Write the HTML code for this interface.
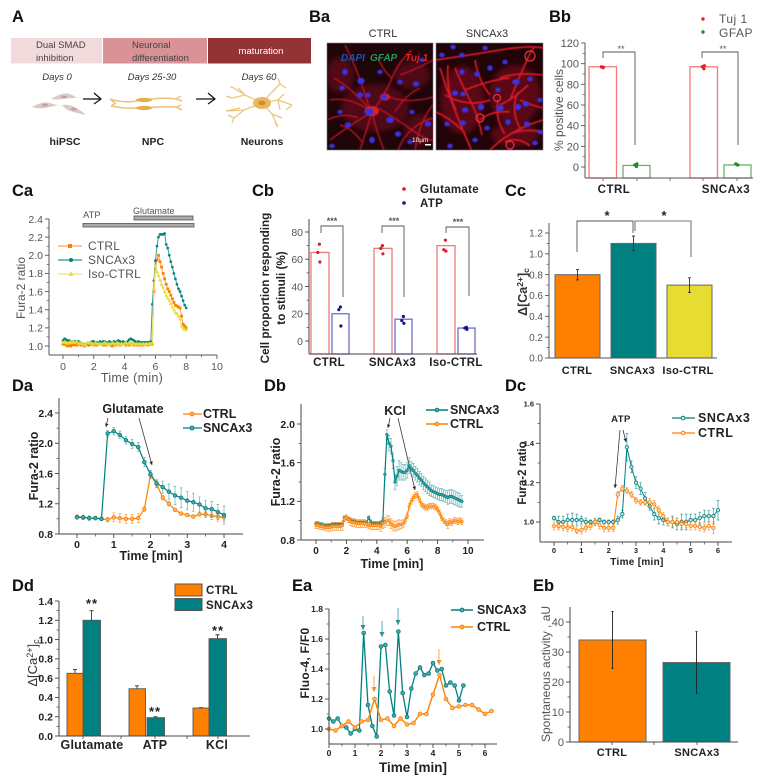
<!DOCTYPE html>
<html lang="en">
<head>
<meta charset="utf-8">
<title>SNCAx3 neuron calcium figure</title>
<style>
html,body{margin:0;padding:0;background:#fff;}
#figure{display:block;width:778px;height:781px;font-family:"Liberation Sans",sans-serif;filter:blur(0.3px);}
.panel{font-size:16.5px;font-weight:bold;fill:#111;}
.bd{font-weight:bold;fill:#222;}
.gr{fill:#555;}
</style>
</head>
<body>
<svg id="figure" xmlns="http://www.w3.org/2000/svg" width="778" height="781" viewBox="0 0 778 781">
<defs>
<marker id="ah" markerWidth="6" markerHeight="6" refX="5" refY="2.5" orient="auto"><path d="M0 0L5 2.5L0 5z" fill="#222"/></marker>
<marker id="aht" markerWidth="6" markerHeight="6" refX="5" refY="2.5" orient="auto"><path d="M0 0L5 2.5L0 5z" fill="#2f8f8f"/></marker>
<marker id="aho" markerWidth="6" markerHeight="6" refX="5" refY="2.5" orient="auto"><path d="M0 0L5 2.5L0 5z" fill="#f58a2a"/></marker>
<filter id="soft" x="-5%" y="-5%" width="110%" height="110%"><feGaussianBlur stdDeviation="0.6"/></filter>
<filter id="haze" x="-5%" y="-5%" width="110%" height="110%"><feGaussianBlur stdDeviation="3"/></filter>
<clipPath id="clipCtrl"><rect x="327" y="43" width="106" height="107"/></clipPath>
<clipPath id="clipSnca"><rect x="436" y="43" width="107" height="107"/></clipPath>
</defs>

<!-- panel letters -->
<g>
<text class="panel" x="12" y="22">A</text>
<text class="panel" x="309" y="22">Ba</text>
<text class="panel" x="549" y="22">Bb</text>
<text class="panel" x="12" y="196">Ca</text>
<text class="panel" x="252" y="196">Cb</text>
<text class="panel" x="505" y="196">Cc</text>
<text class="panel" x="12" y="391">Da</text>
<text class="panel" x="264" y="391">Db</text>
<text class="panel" x="505" y="391">Dc</text>
<text class="panel" x="12" y="591">Dd</text>
<text class="panel" x="292" y="591">Ea</text>
<text class="panel" x="533" y="591">Eb</text>
</g>

<!-- panel A -->
<g font-size="9.5">
<rect x="11" y="38" width="91" height="25.5" fill="#f2d9dc"/>
<rect x="103" y="38" width="104" height="25.5" fill="#d99295"/>
<rect x="208" y="38" width="103" height="25.5" fill="#943336"/>
<text x="36" y="48" fill="#444">Dual SMAD</text>
<text x="36" y="61" fill="#444">inhibition</text>
<text x="132" y="48" fill="#444">Neuronal</text>
<text x="132" y="61" fill="#444">differentiation</text>
<text x="261" y="54" fill="#fff" text-anchor="middle">maturation</text>
<g font-style="italic" fill="#333" text-anchor="middle">
<text x="57" y="80">Days 0</text>
<text x="152" y="80">Days 25-30</text>
<text x="259" y="80">Days 60</text>
</g>
<g font-weight="bold" font-size="10.5" fill="#222" text-anchor="middle">
<text x="65" y="145">hiPSC</text>
<text x="153" y="145">NPC</text>
<text x="262" y="145">Neurons</text>
</g>
<g fill="#dcc9c5">
<path d="M51 99Q62 92 70 94Q76 97 77 98Q68 98 62 99Q56 100 51 99z"/>
<path d="M32 107Q42 101 50 103Q55 105 58 105Q50 107 44 108Q38 109 32 107z"/>
<path d="M62 105Q70 104 76 108Q82 111 86 115Q76 113 70 111Q65 109 62 105z"/>
<g fill="#bfa39f"><ellipse cx="64" cy="97" rx="3" ry="1.4"/><ellipse cx="45" cy="105" rx="3" ry="1.4"/><ellipse cx="74" cy="109" rx="3" ry="1.4"/></g>
</g>
<g fill="none" stroke="#ecc67e" stroke-width="1.6">
<path d="M110 99Q125 104 142 100Q165 97 176 99M176 99L181 96M176 99L182 101M110 99L116 104"/>
<path d="M111 106Q125 109 142 108Q165 106 176 107M176 107L181 105M176 107L182 110M111 106L116 103"/>
<ellipse cx="144" cy="100" rx="8" ry="2.2" fill="#e4b04f" stroke="none"/>
<ellipse cx="144" cy="108" rx="8" ry="2.2" fill="#e4b04f" stroke="none"/>
</g>
<g fill="none" stroke="#ecc67e" stroke-width="1.3">
<path d="M262 103L245 95L232 98M245 95L238 88M232 98L226 96M245 95L232 87M232 87L230 87"/>
<path d="M262 103L244 110L226 111M244 110L234 118M226 111L240 108M234 118L228 115M234 118L232 123"/>
<path d="M262 103L272 114L278 127M272 114L282 118M278 127L275 122"/>
<path d="M262 103L278 100L292 105M278 100L284 94M292 105L286 110M278 100L280 110"/>
<path d="M262 103L272 92L280 84M280 84L286 88M280 84L278 78"/>
<ellipse cx="262" cy="103" rx="9" ry="6" fill="#e9b75f" stroke="none"/>
<ellipse cx="262" cy="103" rx="3.5" ry="2.4" fill="#d18f2b" stroke="none"/>
</g>
<g stroke="#111" stroke-width="1.2" fill="none">
<path d="M83 99H101M94 93L101 99L94 104"/>
<path d="M196 99H215M208 93L215 99L208 104"/>
</g>
</g>

<!-- panel Ba -->
<g>
<text x="383" y="37" text-anchor="middle" font-size="11" fill="#333">CTRL</text>
<text x="487" y="37" text-anchor="middle" font-size="11" fill="#333">SNCAx3</text>
<g>
<rect x="327" y="43" width="106" height="107" fill="#1e0508" stroke="#778" stroke-width="0.6"/>
<g clip-path="url(#clipCtrl)">
<g fill="#7a1020" opacity="0.55" filter="url(#haze)"><ellipse cx="375" cy="108" rx="34" ry="24"/><ellipse cx="340" cy="75" rx="14" ry="18"/><ellipse cx="420" cy="130" rx="16" ry="16"/><ellipse cx="412" cy="75" rx="18" ry="14"/></g>
<g fill="none" stroke="#c9182a" stroke-width="1.5" opacity="0.85" filter="url(#soft)">
<path d="M372 112Q385 95 392 78T412 50"/><path d="M372 112Q350 125 330 140"/><path d="M372 112Q376 130 384 150"/>
<path d="M385 95Q398 102 418 100T433 92"/><path d="M378 108Q395 118 412 130T433 140"/><path d="M392 78Q384 72 378 58"/>
<path d="M330 100Q350 96 372 112"/><path d="M372 112Q352 88 334 78"/><path d="M398 150Q408 125 433 118"/>
<path d="M345 45Q358 70 370 110"/><path d="M415 150Q420 120 433 105"/><path d="M360 150Q365 135 372 112"/>
<path d="M400 75Q415 70 433 60"/><path d="M340 125Q352 128 362 142"/><path d="M327 120Q345 112 358 118"/><path d="M395 112Q405 95 420 88"/>
</g>
<g fill="#d8202e" filter="url(#soft)"><ellipse cx="372" cy="111" rx="7" ry="5"/><ellipse cx="385" cy="97" rx="5" ry="3.5"/></g>
<g fill="#3a30dc" filter="url(#soft)">
<ellipse cx="369" cy="112" rx="4.5" ry="3.5"/><ellipse cx="361" cy="81" rx="3.8" ry="3.2"/><ellipse cx="360" cy="95" rx="3.2" ry="2.8"/><ellipse cx="368" cy="95" rx="2.8" ry="2.4"/><ellipse cx="384" cy="97" rx="3.2" ry="2.8"/>
<ellipse cx="390" cy="120" rx="3.8" ry="3"/><ellipse cx="342" cy="88" rx="2.8" ry="2.4"/><ellipse cx="345" cy="72" rx="2.8" ry="3.2"/><ellipse cx="400" cy="82" rx="2.8" ry="2.2"/><ellipse cx="416" cy="84" rx="3.2" ry="2.7"/>
<ellipse cx="428" cy="124" rx="3.2" ry="2.7"/><ellipse cx="412" cy="112" rx="2.8" ry="2.2"/><ellipse cx="398" cy="134" rx="3.2" ry="2.7"/><ellipse cx="372" cy="140" rx="2.8" ry="3.2"/><ellipse cx="348" cy="125" rx="3.2" ry="2.7"/>
<ellipse cx="340" cy="112" rx="2.8" ry="2.2"/><ellipse cx="380" cy="72" rx="2.8" ry="2.2"/><ellipse cx="332" cy="146" rx="2.8" ry="2.2"/><ellipse cx="422" cy="60" rx="2.8" ry="2.2"/><ellipse cx="410" cy="142" rx="2.8" ry="2.2"/>
</g>
</g>
<text x="341" y="61" font-size="10" font-weight="bold" font-style="italic" fill="#2250b8">DAPI</text>
<text x="370" y="61" font-size="10" font-weight="bold" font-style="italic" fill="#1f9a58">GFAP</text>
<text x="405" y="61" font-size="10" font-weight="bold" font-style="italic" fill="#e8201f">Tuj 1</text>
<text x="412" y="142" font-size="6.5" fill="#fff">10µm</text>
<rect x="425" y="144" width="6" height="1.5" fill="#fff"/>
</g>
<g>
<rect x="436" y="43" width="107" height="107" fill="#200407" stroke="#778" stroke-width="0.6"/>
<g clip-path="url(#clipSnca)">
<g fill="#8a1020" opacity="0.55" filter="url(#haze)"><ellipse cx="462" cy="100" rx="22" ry="34"/><ellipse cx="515" cy="95" rx="26" ry="30"/><ellipse cx="515" cy="135" rx="24" ry="12"/></g>
<g fill="none" stroke="#e01a2c" stroke-width="1.8" opacity="0.92" filter="url(#soft)">
<path d="M436 60Q470 55 500 50T543 48"/><path d="M440 68Q450 100 465 135T470 150"/><path d="M448 65Q446 90 456 110"/>
<path d="M500 78Q515 72 543 75"/><path d="M510 100Q520 75 527 60T535 48"/><path d="M465 90Q490 80 510 78"/>
<path d="M436 112Q450 118 462 130"/><path d="M498 100Q495 120 505 134"/><path d="M490 150Q510 130 543 120"/>
<path d="M520 100Q530 105 543 108"/><path d="M475 60Q478 80 490 95"/><path d="M500 105Q515 98 528 85"/>
<path d="M510 134Q525 128 543 132"/><path d="M445 95Q468 108 490 100"/><path d="M505 142Q518 136 530 146"/>
<path d="M480 120Q492 110 510 112"/><path d="M455 68Q462 85 470 100T482 135"/><path d="M518 92Q510 110 520 128"/>
</g>
<g fill="none" stroke="#e8333c" stroke-width="1.2"><circle cx="530" cy="56" r="5"/><circle cx="510" cy="145" r="4"/><circle cx="480" cy="118" r="4"/><circle cx="497" cy="98" r="3.5"/></g>
<g fill="#3a30e0" filter="url(#soft)">
<ellipse cx="442" cy="55" rx="2.8" ry="2.3"/><ellipse cx="453" cy="47" rx="2.8" ry="2.3"/><ellipse cx="462" cy="55" rx="2.8" ry="2.3"/><ellipse cx="485" cy="48" rx="2.8" ry="2.3"/><ellipse cx="490" cy="68" rx="2.8" ry="2.8"/>
<ellipse cx="505" cy="62" rx="2.8" ry="2.3"/><ellipse cx="516" cy="82" rx="3.8" ry="2.9"/><ellipse cx="530" cy="79" rx="2.8" ry="2.4"/><ellipse cx="462" cy="72" rx="2.8" ry="2.8"/><ellipse cx="477" cy="74" rx="2.8" ry="2.8"/>
<ellipse cx="455" cy="93" rx="3.2" ry="2.8"/><ellipse cx="463" cy="94" rx="2.8" ry="2.3"/><ellipse cx="465" cy="110" rx="3.2" ry="2.8"/><ellipse cx="481" cy="107" rx="3.2" ry="3.2"/><ellipse cx="500" cy="108" rx="3.8" ry="3.2"/>
<ellipse cx="518" cy="107" rx="3.2" ry="3.2"/><ellipse cx="526" cy="104" rx="3.2" ry="2.8"/><ellipse cx="447" cy="124" rx="2.8" ry="2.3"/><ellipse cx="463" cy="123" rx="2.8" ry="2.8"/><ellipse cx="487" cy="128" rx="2.8" ry="2.3"/>
<ellipse cx="508" cy="122" rx="2.8" ry="2.8"/><ellipse cx="527" cy="124" rx="3.2" ry="2.8"/><ellipse cx="540" cy="132" rx="2.8" ry="2.3"/><ellipse cx="475" cy="140" rx="2.8" ry="2.3"/><ellipse cx="535" cy="143" rx="2.8" ry="2.3"/>
<ellipse cx="540" cy="100" rx="2.8" ry="2.3"/><ellipse cx="498" cy="90" rx="2.8" ry="2.3"/><ellipse cx="450" cy="146" rx="2.8" ry="2.3"/>
</g>
</g>
</g>
</g>

<!-- static annotations -->
<g fill="none" stroke="#555" stroke-width="0.9">
<path d="M603 58V52H635V145"/>
<path d="M702 58V52H738V145"/>
</g>
<g>
<text x="621" y="52" text-anchor="middle" font-size="9" class="gr">**</text>
<text x="723" y="52" text-anchor="middle" font-size="9" class="gr">**</text>
<text transform="translate(563,110) rotate(-90)" text-anchor="middle" font-size="12" class="gr">% positive cells</text>
<circle cx="703" cy="19" r="1.7" fill="#e8202a"/>
<text x="719" y="23" font-size="12" class="gr" letter-spacing="0.5">Tuj 1</text>
<circle cx="703" cy="32" r="1.7" fill="#1a8a2a"/>
<text x="719" y="37" font-size="12" class="gr" letter-spacing="0.5">GFAP</text>
</g>

<g>
<rect x="134" y="216" width="59" height="4" fill="#aaa" stroke="#555" stroke-width="0.8"/>
<rect x="83" y="223.5" width="111" height="3.5" fill="#aaa" stroke="#555" stroke-width="0.8"/>
<text x="83" y="218" font-size="9.5" class="gr">ATP</text>
<text x="133" y="214" font-size="9" class="gr">Glutamate</text>
<text transform="translate(25,288) rotate(-90)" text-anchor="middle" font-size="12" class="gr">Fura-2 ratio</text>
<text x="132" y="382" text-anchor="middle" font-size="12.5" class="gr" letter-spacing="0.3">Time (min)</text>
<g font-size="12" class="gr" letter-spacing="0.2">
<text x="88" y="250">CTRL</text>
<text x="88" y="264">SNCAx3</text>
<text x="88" y="278">Iso-CTRL</text>
</g>
<path d="M58 246H82" stroke="#fbb27a" stroke-width="1.5"/>
<rect x="68" y="244" width="4" height="4" fill="#ff8000"/>
<path d="M58 260H82" stroke="#4aa5a5" stroke-width="1.5"/>
<circle cx="71" cy="260" r="2" fill="#008080"/>
<path d="M58 274H82" stroke="#f0e88a" stroke-width="1.5"/>
<path d="M71 271.5L73.5 276H68.5z" fill="#e6dc32"/>
</g>

<g>
<g fill="none" stroke="#555" stroke-width="0.9">
<path d="M321 233V226H343V297"/>
<path d="M382 233V226H404V297"/>
<path d="M446 233V227H469V296"/>
</g>
<g font-size="9" class="gr" text-anchor="middle" font-weight="bold">
<text x="332" y="224">***</text>
<text x="394" y="224">***</text>
<text x="458" y="225">***</text>
</g>
<g class="bd" font-size="11.7" text-anchor="middle">
<text transform="translate(269,288) rotate(-90)">Cell proportion responding</text>
<text transform="translate(285,288) rotate(-90)">to stimuli (%)</text>
</g>
<circle cx="404" cy="189" r="1.8" fill="#d81e2a"/>
<circle cx="404" cy="203" r="1.8" fill="#14148c"/>
<text x="420" y="193" font-size="11.5" class="bd" letter-spacing="0.3">Glutamate</text>
<text x="420" y="207" font-size="11.5" class="bd" letter-spacing="0.3">ATP</text>
</g>

<g>
<path d="M577 252V221H633V233" fill="none" stroke="#555" stroke-width="0.9"/>
<path d="M635 231V221H691V257" fill="none" stroke="#777" stroke-width="1.1"/>
<text x="607" y="220" text-anchor="middle" font-size="13" class="bd">*</text>
<text x="664" y="220" text-anchor="middle" font-size="13" class="bd">*</text>
<text transform="translate(527,292) rotate(-90)" text-anchor="middle" font-size="12.5" font-weight="bold" fill="#333">Δ[Ca<tspan font-size="8.5" dy="-4">2+</tspan><tspan dy="4">]</tspan><tspan font-size="8.5" dy="2">c</tspan></text>
</g>

<g>
<text x="133" y="413" text-anchor="middle" font-size="12.5" class="bd">Glutamate</text>
<path d="M108 418L106 427" stroke="#222" stroke-width="0.7" marker-end="url(#ah)"/>
<path d="M139 418L152 465" stroke="#222" stroke-width="0.7" marker-end="url(#ah)"/>
<text transform="translate(38,466) rotate(-90)" text-anchor="middle" font-size="12.5" class="bd">Fura-2 ratio</text>
<text x="151" y="560" text-anchor="middle" font-size="12.5" class="bd">Time [min]</text>
<path d="M183 414H202" stroke="#ff8000" stroke-width="1.3"/>
<circle cx="192" cy="414" r="1.9" fill="#f9b36a" stroke="#ff8000"/>
<path d="M183 428H202" stroke="#008080" stroke-width="1.3"/>
<circle cx="192" cy="428" r="1.9" fill="#5bb0b0" stroke="#008080"/>
<text x="203" y="418" font-size="12.5" class="bd">CTRL</text>
<text x="203" y="432" font-size="12.5" class="bd">SNCAx3</text>
</g>

<g>
<text x="395" y="415" text-anchor="middle" font-size="12.5" class="bd">KCl</text>
<path d="M390 418L388 428" stroke="#222" stroke-width="0.7" marker-end="url(#ah)"/>
<path d="M398 418L415 490" stroke="#222" stroke-width="0.7" marker-end="url(#ah)"/>
<text transform="translate(280,472) rotate(-90)" text-anchor="middle" font-size="12.5" class="bd">Fura-2 ratio</text>
<text x="392" y="568" text-anchor="middle" font-size="12.5" class="bd">Time [min]</text>
<path d="M426 410H448" stroke="#008080" stroke-width="1.6"/>
<circle cx="437" cy="410" r="1.8" fill="#5bb0b0" stroke="#008080"/>
<path d="M426 424H448" stroke="#ff8000" stroke-width="1.6"/>
<circle cx="437" cy="424" r="1.8" fill="#f9b36a" stroke="#ff8000"/>
<text x="450" y="414" font-size="12.5" class="bd">SNCAx3</text>
<text x="450" y="428" font-size="12.5" class="bd">CTRL</text>
</g>

<g>
<text x="621" y="422" text-anchor="middle" font-size="9.5" class="bd" letter-spacing="0.5">ATP</text>
<path d="M620 430L615 488" stroke="#222" stroke-width="0.7" marker-end="url(#ah)"/>
<path d="M623 430L626 442" stroke="#222" stroke-width="0.7" marker-end="url(#ah)"/>
<text transform="translate(526,473) rotate(-90)" text-anchor="middle" font-size="11.5" class="bd">Fura-2 ratio</text>
<text x="637" y="565" text-anchor="middle" font-size="10" class="bd" letter-spacing="0.3">Time [min]</text>
<path d="M672 418H695" stroke="#008080" stroke-width="1.2"/>
<circle cx="683" cy="418" r="1.8" fill="#cfe" stroke="#008080"/>
<path d="M672 433H695" stroke="#ff8000" stroke-width="1.2"/>
<circle cx="683" cy="433" r="1.8" fill="#fed" stroke="#ff8000"/>
<text x="698" y="422" font-size="12.5" class="bd" letter-spacing="0.5">SNCAx3</text>
<text x="698" y="437" font-size="12.5" class="bd" letter-spacing="0.5">CTRL</text>
</g>

<g>
<text transform="translate(37,663) rotate(-90)" text-anchor="middle" font-size="13" fill="#333">Δ[Ca<tspan font-size="9" dy="-4">2+</tspan><tspan dy="4">]</tspan><tspan font-size="9" dy="2">c</tspan></text>
<rect x="175" y="584" width="27" height="12" fill="#ff8000" stroke="#555"/>
<rect x="175" y="598.5" width="27" height="12" fill="#008080" stroke="#555"/>
<text x="206" y="594" font-size="11.5" class="bd" letter-spacing="0.3">CTRL</text>
<text x="206" y="609" font-size="11.5" class="bd" letter-spacing="0.3">SNCAx3</text>
<g font-size="13" class="bd" text-anchor="middle" letter-spacing="1">
<text x="92" y="608">**</text>
<text x="155" y="716">**</text>
<text x="218" y="635">**</text>
</g>
</g>

<g>
<text transform="translate(309,663) rotate(-90)" text-anchor="middle" font-size="12" class="bd" letter-spacing="0.3">Fluo-4, F/F0</text>
<text x="413" y="772" text-anchor="middle" font-size="13.5" class="bd">Time [min]</text>
<path d="M451 610H473" stroke="#008080" stroke-width="1.4"/>
<circle cx="462" cy="610" r="1.9" fill="#5bb0b0" stroke="#008080"/>
<path d="M451 627H473" stroke="#ff8000" stroke-width="1.4"/>
<circle cx="462" cy="627" r="1.9" fill="#f9b36a" stroke="#ff8000"/>
<text x="477" y="614" font-size="12.5" class="bd">SNCAx3</text>
<text x="477" y="631" font-size="12.5" class="bd">CTRL</text>
<g stroke="#5eaaaa" stroke-width="1">
<path d="M363 616V630" marker-end="url(#aht)"/><path d="M382 621V637" marker-end="url(#aht)"/><path d="M398 608V625" marker-end="url(#aht)"/>
</g>
<g stroke="#f9a660" stroke-width="1">
<path d="M374 676V692" marker-end="url(#aho)"/><path d="M439 649V665" marker-end="url(#aho)"/>
</g>
</g>

<g>
<text transform="translate(550,674) rotate(-90)" text-anchor="middle" font-size="12" class="gr">Spontaneous activity , aU</text>
</g>

<g id="charts"></g>
</svg>

<script>
/* ---- panel Bb ---- */
const bbCategories = ['CTRL', 'SNCAx3'];
const bbTuj = [97, 97];
const bbGfap = [1.5, 2];
const bbTujDots = [[96, 97, 96.5], [95, 97, 98]];
const bbGfapDots = [[0.5, 2, 3], [2, 3, 2]];
const bbYTicks = [0, 20, 40, 60, 80, 100, 120];

/* ---- panel Ca ---- */
const caYTicks = [1.0, 1.2, 1.4, 1.6, 1.8, 2.0, 2.2, 2.4];
const caXTicks = [0, 2, 4, 6, 8, 10];
const caCtrl = [1.02,1.03,1.01,1.00,1.01,1.00,1.01,1.02,1.01,1.01,1.02,1.02,1.01,1.02,1.00,1.01,1.02,1.01,1.03,1.02,1.01,1.02,1.01,1.02,1.03,1.02,1.01,1.02,1.01,1.02,1.03,1.01,1.00,1.02,1.01,1.03,1.02,1.01,1.02,1.03,1.02,1.01,1.02,1.01,1.03,1.02,1.01,1.02,1.01,1.02,1.01,1.02,1.01,1.02,1.02,1.01,1.02,1.02,1.02,1.60,1.85,1.95,2.00,1.93,1.87,1.80,1.74,1.68,1.63,1.60,1.56,1.52,1.48,1.45,1.44,1.43,1.42,1.33,1.24,1.22,1.20];
const caSnca = [1.06,1.08,1.07,1.06,1.06,1.05,1.04,1.05,1.05,1.04,1.05,1.04,1.03,1.02,1.02,1.01,1.03,1.02,1.04,1.05,1.05,1.04,1.04,1.03,1.05,1.04,1.05,1.05,1.04,1.03,1.05,1.04,1.03,1.05,1.04,1.05,1.06,1.05,1.04,1.05,1.04,1.03,1.05,1.07,1.08,1.07,1.06,1.05,1.04,1.05,1.04,1.04,1.04,1.04,1.04,1.04,1.04,1.05,1.46,1.72,1.94,2.10,2.20,2.23,2.23,2.23,2.24,2.12,2.08,2.00,1.93,1.87,1.80,1.74,1.68,1.63,1.60,1.55,1.50,1.45,1.42];
const caIso = [1.04,1.05,1.04,1.03,1.04,1.05,1.04,1.05,1.04,1.05,1.03,1.04,1.03,1.02,1.02,1.01,1.04,1.03,1.04,1.03,1.02,1.04,1.03,1.02,1.03,1.02,1.03,1.04,1.03,1.02,1.03,1.02,1.04,1.03,1.02,1.04,1.03,1.02,1.03,1.02,1.03,1.04,1.02,1.04,1.03,1.02,1.03,1.02,1.03,1.02,1.03,1.02,1.03,1.02,1.03,1.02,1.03,1.03,1.03,1.65,1.88,1.82,1.78,1.73,1.68,1.65,1.60,1.56,1.53,1.50,1.47,1.43,1.40,1.37,1.36,1.33,1.30,1.22,1.20,1.18,1.18];

/* ---- panel Cb ---- */
const cbCategories = ['CTRL', 'SNCAx3', 'Iso-CTRL'];
const cbGlutamate = [65, 68, 70];
const cbAtp = [20, 16, 9.5];
const cbGlutamateDots = [[71, 65, 58], [70, 68, 64], [74, 67, 66]];
const cbAtpDots = [[25, 23, 11], [18, 15, 13], [10, 9.5, 8.5]];
const cbYTicks = [0, 20, 40, 60, 80];

/* ---- panel Cc ---- */
const ccCategories = ['CTRL', 'SNCAx3', 'Iso-CTRL'];
const ccValues = [0.8, 1.1, 0.7];
const ccErrors = [0.05, 0.07, 0.07];
const ccYTicks = [0, 0.2, 0.4, 0.6, 0.8, 1.0, 1.2];

/* ---- panel Da ---- */
const daYTicks = [0.8, 1.2, 1.6, 2.0, 2.4];
const daXTicks = [0, 1, 2, 3, 4];
const daSnca = [1.02,1.02,1.01,1.01,1.00,2.13,2.16,2.11,2.04,1.99,1.95,1.75,1.59,1.47,1.42,1.36,1.31,1.28,1.24,1.22,1.19,1.14,1.13,1.09,1.05];
const daSncaErr = [.02,.03,.03,.02,.02,.04,.05,.05,.05,.06,.06,.06,.05,.05,.08,.10,.12,.13,.12,.12,.10,.10,.10,.10,.12];
const daCtrl = [1.03,1.02,1.01,1.01,1.00,0.99,1.02,1.01,1.00,1.00,1.01,1.13,1.58,1.46,1.28,1.20,1.12,1.07,1.05,1.03,1.06,1.06,1.04,1.03,1.02];
const daCtrlErr = [.02,.02,.02,.02,.02,.03,.06,.06,.06,.06,.06,.03,.05,.05,.03,.03,.02,.02,.02,.02,.02,.04,.05,.06,.05];

/* ---- panel Db ---- */
const dbYTicks = [0.8, 1.2, 1.6, 2.0];
const dbXTicks = [0, 2, 4, 6, 8, 10];
const dbSnca = [.97,.97,.96,.96,.95,.95,.95,.95,.96,.96,.96,.96,.96,.96,1.03,1.03,1.02,1.00,.99,.99,.98,.98,.98,.98,.98,.98,1.03,.99,.97,.97,.97,.97,.98,1.00,1.48,1.89,1.80,1.77,1.62,1.40,1.46,1.52,1.51,1.50,1.50,1.52,1.57,1.54,1.52,1.49,1.47,1.44,1.42,1.39,1.37,1.35,1.33,1.31,1.30,1.29,1.28,1.27,1.27,1.26,1.25,1.24,1.25,1.25,1.24,1.23,1.22,1.21,1.20];
const dbSncaErr = [.02,.02,.02,.02,.02,.02,.02,.02,.02,.02,.02,.02,.02,.02,.02,.02,.02,.02,.02,.02,.02,.02,.02,.02,.02,.02,.02,.02,.02,.02,.02,.02,.02,.03,.06,.05,.08,.08,.08,.08,.10,.10,.09,.08,.08,.08,.08,.07,.07,.07,.07,.07,.07,.07,.07,.07,.07,.06,.06,.06,.06,.06,.06,.06,.06,.07,.07,.07,.07,.07,.07,.07,.06];
const dbCtrl = [.95,.95,.94,.94,.93,.93,.93,.93,.94,.94,.94,.94,.94,.95,1.02,1.03,1.01,.99,.98,.98,.97,.97,.97,.97,.97,.96,.95,.95,.95,.95,.95,.95,.94,.97,.98,1.00,1.00,.97,.95,.94,.95,.96,.96,.97,1.00,1.05,1.15,1.20,1.24,1.26,1.27,1.22,1.17,1.15,1.14,1.14,1.15,1.15,1.15,1.14,1.12,1.08,1.03,1.00,.98,.96,.99,.98,1.00,1.00,.99,1.00,.99];
const dbCtrlErr = [.03,.03,.03,.03,.03,.03,.04,.04,.04,.04,.04,.04,.04,.05,.03,.03,.03,.04,.04,.04,.04,.04,.04,.04,.04,.03,.03,.04,.04,.04,.04,.04,.05,.05,.05,.05,.05,.05,.05,.05,.05,.05,.04,.04,.03,.03,.03,.03,.03,.03,.03,.03,.03,.03,.03,.03,.03,.03,.03,.03,.03,.03,.03,.03,.03,.04,.03,.03,.03,.03,.03,.03,.03];

/* ---- panel Dc ---- */
const dcYTicks = [1.0, 1.2, 1.4, 1.6];
const dcXTicks = [0, 1, 2, 3, 4, 5, 6];
const dcSnca = [1.02,1.00,1.00,1.01,1.01,1.01,1.01,1.00,1.00,1.00,1.01,1.00,1.00,1.00,1.01,1.04,1.38,1.28,1.20,1.17,1.12,1.08,1.04,1.02,1.01,1.00,1.00,.99,1.00,1.00,1.01,1.01,1.02,1.03,1.03,1.03,1.06];
const dcSncaErr = [.01,.03,.03,.03,.035,.03,.02,.02,.01,.015,.01,.01,.01,.01,.02,.02,.07,.03,.03,.03,.03,.02,.03,.03,.025,.02,.03,.03,.04,.04,.03,.03,.03,.03,.03,.04,.05];
const dcCtrl = [.98,.98,.975,.97,.975,.955,.96,.97,.98,1.00,.985,.97,.97,.97,1.14,1.17,1.16,1.14,1.11,1.10,1.10,1.10,1.09,1.06,1.03,1.00,1.00,1.00,.99,.99,.98,.98,.975,.97,.98,.97];
const dcCtrlErr = [.02,.02,.02,.02,.02,.015,.02,.02,.02,.02,.02,.02,.02,.02,.015,.015,.015,.015,.015,.015,.015,.02,.02,.02,.02,.02,.02,.02,.02,.02,.02,.02,.02,.02,.02,.03];

/* ---- panel Dd ---- */
const ddCategories = ['Glutamate', 'ATP', 'KCl'];
const ddCtrl = [0.65, 0.49, 0.29];
const ddCtrlErr = [0.04, 0.03, 0.005];
const ddSnca = [1.2, 0.19, 1.01];
const ddSncaErr = [0.1, 0.01, 0.04];
const ddYTicks = [0, 0.2, 0.4, 0.6, 0.8, 1.0, 1.2, 1.4];

/* ---- panel Ea ---- */
const eaYTicks = [1.0, 1.2, 1.4, 1.6, 1.8];
const eaXTicks = [0, 1, 2, 3, 4, 5, 6];
const eaSnca = [1.07,1.05,1.07,1.02,1.01,0.97,1.00,0.99,1.64,1.16,1.02,0.95,1.55,1.56,1.25,1.09,1.65,1.24,1.08,1.27,1.37,1.41,1.36,1.37,1.44,1.39,1.40,1.29,1.31,1.29,1.19,1.29];
const eaCtrl = [1.00,0.99,1.02,1.05,1.01,1.05,1.06,1.20,1.06,1.07,1.02,1.07,1.03,1.04,1.10,1.10,1.23,1.36,1.20,1.14,1.15,1.16,1.16,1.13,1.10,1.12];

/* ---- panel Eb ---- */
const ebCategories = ['CTRL', 'SNCAx3'];
const ebValues = [34, 26.5];
const ebErrors = [9.5, 10.3];
const ebYTicks = [0, 10, 20, 30, 40];

/* ---- drawing helpers ---- */
const NS = 'http://www.w3.org/2000/svg';
const charts = document.getElementById('charts');
function mk(parent, tag, attrs, name, text) {
  const el = document.createElementNS(NS, tag);
  for (const k in attrs) el.setAttribute(k, attrs[k]);
  
  
  if (text !== undefined) el.textContent = text;
  parent.appendChild(el);
  return el;
}
function linear(d0, d1, r0, r1) {
  return v => r0 + (v - d0) * (r1 - r0) / (d1 - d0);
}
function yAxis(g, o) {
  mk(g, 'line', {x1:o.x, x2:o.x, y1:o.top, y2:o.bottom, stroke:o.color, 'stroke-width':o.sw || 1}, 'y-axis-line');
  o.ticks.forEach((t, i) => {
    const y = o.sy(t);
    mk(g, 'line', {x1:o.x - 4, x2:o.x, y1:y, y2:y, stroke:o.color, 'stroke-width':0.9}, 'y-tick');
    mk(g, 'text', {x:o.x - 6, y:y + o.font * 0.36, 'text-anchor':'end', 'font-size':o.font, 'font-weight':o.weight || 'normal', fill:o.textColor}, 'y-tick-label', t.toFixed(o.digits));
    if (i < o.ticks.length - 1 && !o.noMinor) {
      const m = o.sy((t + o.ticks[i + 1]) / 2);
      mk(g, 'line', {x1:o.x - 2.5, x2:o.x, y1:m, y2:m, stroke:o.color, 'stroke-width':0.7}, 'y-minor-tick');
    }
  });
}
function xAxisLine(g, o) {
  mk(g, 'line', {x1:o.x0, x2:o.x1, y1:o.y, y2:o.y, stroke:o.color, 'stroke-width':o.sw || 1}, 'x-axis-line');
}
function xTicks(g, o) {
  o.ticks.forEach((t, i) => {
    const x = o.sx(t);
    mk(g, 'line', {x1:x, x2:x, y1:o.y, y2:o.y + 4, stroke:o.color, 'stroke-width':0.9}, 'x-tick');
    mk(g, 'text', {x:x, y:o.y + o.labelDy, 'text-anchor':'middle', 'font-size':o.font, 'font-weight':o.weight || 'normal', fill:o.textColor}, 'x-tick-label', String(t));
    if (i < o.ticks.length - 1 && !o.noMinor) {
      const m = o.sx((t + o.ticks[i + 1]) / 2);
      mk(g, 'line', {x1:m, x2:m, y1:o.y, y2:o.y + 2.5, stroke:o.color, 'stroke-width':0.7}, 'x-minor-tick');
    }
  });
}
function catLabels(g, labels, centers, y, font, color, spacing) {
  labels.forEach((c, i) => {
    mk(g, 'text', {x:centers(i), y:y, 'text-anchor':'middle', 'font-size':font, 'font-weight':'bold', fill:color, 'letter-spacing':spacing || 0}, 'category-label-' + c.toLowerCase(), c);
  });
}
function bars(g, name, values, xf, w, sy, baseY, fill, stroke, sw) {
  values.forEach((v, i) => {
    const y = sy(v);
    mk(g, 'rect', {x:xf(i), y:y, width:w, height:baseY - y, fill:fill, stroke:stroke, 'stroke-width':sw}, name + '-bar-' + i);
  });
}
function errs(g, name, values, errors, xf, sy, color, cap) {
  values.forEach((v, i) => {
    const x = xf(i), a = sy(v + errors[i]), b = sy(v - errors[i]);
    mk(g, 'path', {d:`M${x} ${b}V${a}M${x - cap} ${a}H${x + cap}M${x - cap} ${b}H${x + cap}`, stroke:color, 'stroke-width':0.9, fill:'none'}, name + '-error-bar-' + i);
  });
}
function dots(g, name, groups, xf, sy, color) {
  const jitter = [0.4, -1.2, 0.9];
  groups.forEach((grp, i) => {
    grp.forEach((v, j) => {
      mk(g, 'circle', {cx:xf(i) + jitter[j], cy:sy(v), r:1.6, fill:color}, name + '-dot');
    });
  });
}
function series(g, name, values, errors, sx, sy, o) {
  const xs = values.map((_, i) => sx(i * o.step));
  const ys = values.map(sy);
  if (errors) {
    values.forEach((v, i) => {
      const a = sy(v + errors[i]), b = sy(v - errors[i]), c = 1.3;
      mk(g, 'path', {d:`M${xs[i]} ${b}V${a}M${xs[i] - c} ${a}H${xs[i] + c}M${xs[i] - c} ${b}H${xs[i] + c}`, stroke:o.errColor || o.color, 'stroke-width':0.7, fill:'none', opacity:0.8}, name + '-error-bar');
    });
  }
  mk(g, 'polyline', {points:xs.map((x, i) => x + ',' + ys[i]).join(' '), fill:'none', stroke:o.lineColor || o.color, 'stroke-width':o.lw || 1.2}, name + '-line');
  xs.forEach((x, i) => {
    if (o.shape === 'square') {
      mk(g, 'rect', {x:x - o.r, y:ys[i] - o.r, width:2 * o.r, height:2 * o.r, fill:o.fill || o.color}, name + '-point');
    } else if (o.shape === 'triangle') {
      mk(g, 'path', {d:`M${x} ${ys[i] - o.r - 0.4}L${x + o.r + 0.3} ${ys[i] + o.r}H${x - o.r - 0.3}z`, fill:o.fill || o.color}, name + '-point');
    } else {
      mk(g, 'circle', {cx:x, cy:ys[i], r:o.r, fill:o.fill || o.color, stroke:o.color, 'stroke-width':o.msw === undefined ? 0.8 : o.msw}, name + '-point');
    }
  });
}
function chartGroup(name) {
  return mk(charts, 'g', {}, name);
}

/* ---- Bb ---- */
(function () {
  const g = chartGroup('chart-bb');
  const sy = linear(0, 120, 167, 43), base = 178;
  const tx = i => 589 + i * 101, gx = i => 623 + i * 101;
  bars(g, 'tuj1', bbTuj, tx, 27.5, sy, base, '#fff', '#f27b7b', 1.3);
  bars(g, 'gfap', bbGfap, gx, 27, sy, base, '#fff', '#6cb26c', 1.3);
  dots(g, 'tuj1', bbTujDots, i => tx(i) + 13.5, sy, '#e8202a');
  dots(g, 'gfap', bbGfapDots, i => gx(i) + 13, sy, '#1a8a2a');
  yAxis(g, {x:585, sy:sy, ticks:bbYTicks, top:43, bottom:base, color:'#555', font:11, textColor:'#555', digits:0});
  xAxisLine(g, {x0:585, x1:753, y:base, color:'#555'});
  [603, 637, 670, 703, 737].forEach(x => mk(g, 'line', {x1:x, x2:x, y1:base, y2:base + 3, stroke:'#555', 'stroke-width':0.8}, 'x-tick'));
  catLabels(g, bbCategories, i => 614 + i * 112, 193, 11.5, '#222', 0.5);
})();

/* ---- Ca ---- */
(function () {
  const g = chartGroup('chart-ca');
  const sy = linear(1.0, 2.4, 346, 219), sx = linear(0, 10, 63, 217);
  series(g, 'ca-ctrl', caCtrl, null, sx, sy, {step:0.1, color:'#ff8000', lineColor:'#ffa050', r:1.4, shape:'square', lw:1});
  series(g, 'ca-sncax3', caSnca, null, sx, sy, {step:0.1, color:'#008080', lineColor:'#2f9f9f', r:1.2, msw:0.4, lw:1});
  series(g, 'ca-iso-ctrl', caIso, null, sx, sy, {step:0.1, color:'#e6dc32', lineColor:'#e9e16a', r:1.5, shape:'triangle', lw:1});
  yAxis(g, {x:49, sy:sy, ticks:caYTicks, top:219, bottom:355, color:'#555', font:10.5, textColor:'#555', digits:1});
  xAxisLine(g, {x0:49, x1:217, y:355, color:'#555'});
  xTicks(g, {sx:sx, ticks:caXTicks, y:355, labelDy:15, color:'#555', font:10.5, textColor:'#555'});
})();

/* ---- Cb ---- */
(function () {
  const g = chartGroup('chart-cb');
  const sy = linear(0, 80, 341, 232), base = 354;
  const gx = i => 311 + i * 63, ax = i => 332 + i * 63;
  bars(g, 'cb-glutamate', cbGlutamate, gx, 18, sy, base, '#fff', '#ee7a7a', 1.3);
  bars(g, 'cb-atp', cbAtp, ax, 17, sy, base, '#fff', '#6f6fc6', 1.3);
  dots(g, 'cb-glutamate', cbGlutamateDots, i => gx(i) + 8, sy, '#d81e2a');
  dots(g, 'cb-atp', cbAtpDots, i => ax(i) + 8, sy, '#14148c');
  yAxis(g, {x:309, sy:sy, ticks:cbYTicks, top:219, bottom:base, color:'#444', font:10.5, textColor:'#555', digits:0});
  xAxisLine(g, {x0:309, x1:477, y:base, color:'#444'});
  catLabels(g, cbCategories, i => 329 + i * 63.5, 366, 11.5, '#222', 0.3);
})();

/* ---- Cc ---- */
(function () {
  const g = chartGroup('chart-cc');
  const sy = linear(0, 1.2, 358, 233), base = 358;
  const colors = ['#ff8000', '#008080', '#e6dc32'];
  const xf = i => 555 + i * 56;
  ccValues.forEach((v, i) => {
    bars(g, 'cc-' + ccCategories[i].toLowerCase(), [v], () => xf(i), 45, sy, base, colors[i], '#666', 1);
  });
  errs(g, 'cc', ccValues, ccErrors, i => xf(i) + 22.5, sy, '#333', 1.5);
  yAxis(g, {x:549, sy:sy, ticks:ccYTicks, top:223, bottom:base, color:'#555', font:10, textColor:'#555', digits:1});
  xAxisLine(g, {x0:549, x1:717, y:base, color:'#555'});
  catLabels(g, ccCategories, i => 577 + i * 55.5, 374, 11, '#222', 0.3);
})();

/* ---- Da ---- */
(function () {
  const g = chartGroup('chart-da');
  const sy = linear(0.8, 2.4, 534, 413), sx = linear(0, 4, 77, 224);
  series(g, 'da-ctrl', daCtrl, daCtrlErr, sx, sy, {step:1 / 6, color:'#ff8000', fill:'#f9b36a', r:1.8});
  series(g, 'da-sncax3', daSnca, daSncaErr, sx, sy, {step:1 / 6, color:'#008080', fill:'#4aa5a5', r:1.8, errColor:'#3a9f9f'});
  yAxis(g, {x:59, sy:sy, ticks:daYTicks, top:398, bottom:534, color:'#444', font:10.5, weight:'bold', textColor:'#222', digits:1});
  xAxisLine(g, {x0:59, x1:243, y:534, color:'#444'});
  xTicks(g, {sx:sx, ticks:daXTicks, y:534, labelDy:14, color:'#444', font:10.5, weight:'bold', textColor:'#222'});
})();

/* ---- Db ---- */
(function () {
  const g = chartGroup('chart-db');
  const sy = linear(0.8, 2.0, 540, 424), sx = linear(0, 10, 316, 468);
  series(g, 'db-sncax3', dbSnca, dbSncaErr, sx, sy, {step:0.1333, color:'#008080', fill:'#4aa5a5', r:1.3, msw:0.6, errColor:'#3a9f9f'});
  series(g, 'db-ctrl', dbCtrl, dbCtrlErr, sx, sy, {step:0.1333, color:'#ff8000', fill:'#f9b36a', r:1.3, msw:0.6});
  yAxis(g, {x:301, sy:sy, ticks:dbYTicks, top:404, bottom:540, color:'#444', font:10.5, weight:'bold', textColor:'#222', digits:1});
  xAxisLine(g, {x0:301, x1:484, y:540, color:'#444'});
  xTicks(g, {sx:sx, ticks:dbXTicks, y:540, labelDy:14, color:'#444', font:10, weight:'bold', textColor:'#222'});
})();

/* ---- Dc ---- */
(function () {
  const g = chartGroup('chart-dc');
  const sy = linear(1.0, 1.6, 522, 404), sx = linear(0, 6, 554, 718);
  series(g, 'dc-sncax3', dcSnca, dcSncaErr, sx, sy, {step:1 / 6, color:'#008080', fill:'#bfe0e0', r:1.7, lw:1});
  series(g, 'dc-ctrl', dcCtrl, dcCtrlErr, sx, sy, {step:1 / 6, color:'#ff8000', fill:'#fcd6ab', r:1.7, lw:1});
  yAxis(g, {x:540, sy:sy, ticks:dcYTicks, top:404, bottom:542, color:'#444', font:7.5, weight:'bold', textColor:'#222', digits:1});
  xAxisLine(g, {x0:540, x1:732, y:542, color:'#444'});
  xTicks(g, {sx:sx, ticks:dcXTicks, y:542, labelDy:11, color:'#444', font:7.5, weight:'bold', textColor:'#222'});
})();

/* ---- Dd ---- */
(function () {
  const g = chartGroup('chart-dd');
  const sy = linear(0, 1.4, 736, 601), base = 736;
  const cx = i => [67, 129, 193][i], sxf = i => [83, 147, 209][i];
  errs(g, 'dd-ctrl', ddCtrl, ddCtrlErr, i => cx(i) + 8, sy, '#333', 2);
  errs(g, 'dd-sncax3', ddSnca, ddSncaErr, i => sxf(i) + 8.5, sy, '#333', 2);
  bars(g, 'dd-ctrl', ddCtrl, cx, 16.5, sy, base, '#ff8000', '#555', 0.9);
  bars(g, 'dd-sncax3', ddSnca, sxf, 17.5, sy, base, '#008080', '#555', 0.9);
  yAxis(g, {x:59, sy:sy, ticks:ddYTicks, top:601, bottom:base, color:'#444', font:10.5, weight:'bold', textColor:'#222', digits:1});
  xAxisLine(g, {x0:59, x1:250, y:base, color:'#444'});
  [83, 121, 155, 187, 218].forEach(x => mk(g, 'line', {x1:x, x2:x, y1:base, y2:base + 3, stroke:'#444', 'stroke-width':0.8}, 'x-tick'));
  catLabels(g, ddCategories, i => [92, 155, 217][i], 749, 12.5, '#222', 0.2);
})();

/* ---- Ea ---- */
(function () {
  const g = chartGroup('chart-ea');
  const sy = linear(1.0, 1.8, 729, 609), sx = linear(0, 6, 329, 485);
  series(g, 'ea-sncax3', eaSnca, null, sx, sy, {step:1 / 6, color:'#008080', fill:'#4aa5a5', r:1.9, lw:1.3});
  series(g, 'ea-ctrl', eaCtrl, null, sx, sy, {step:0.25, color:'#ff8000', fill:'#f9b36a', r:1.9, lw:1.4});
  yAxis(g, {x:329, sy:sy, ticks:eaYTicks, top:609, bottom:744, color:'#444', font:8.5, weight:'bold', textColor:'#222', digits:1});
  xAxisLine(g, {x0:329, x1:497, y:744, color:'#444'});
  xTicks(g, {sx:sx, ticks:eaXTicks, y:744, labelDy:12, color:'#444', font:8.5, weight:'bold', textColor:'#222'});
})();

/* ---- Eb ---- */
(function () {
  const g = chartGroup('chart-eb');
  const sy = linear(0, 40, 742, 622), base = 742;
  const colors = ['#ff8000', '#008080'];
  const xf = i => 579 + i * 84;
  ebValues.forEach((v, i) => {
    bars(g, 'eb-' + ebCategories[i].toLowerCase(), [v], () => xf(i), 67, sy, base, colors[i], '#666', 1);
  });
  errs(g, 'eb', ebValues, ebErrors, i => xf(i) + 33.5, sy, '#222', 1);
  yAxis(g, {x:570, sy:sy, ticks:ebYTicks, top:607, bottom:base, color:'#444', font:11, textColor:'#555', digits:0});
  xAxisLine(g, {x0:570, x1:738, y:base, color:'#444'});
  [612, 654, 697].forEach(x => mk(g, 'line', {x1:x, x2:x, y1:base, y2:base + 3, stroke:'#444', 'stroke-width':0.8}, 'x-tick'));
  catLabels(g, ebCategories, i => 612 + i * 85, 756, 11, '#222', 0.3);
})();
</script>
</body>
</html>
